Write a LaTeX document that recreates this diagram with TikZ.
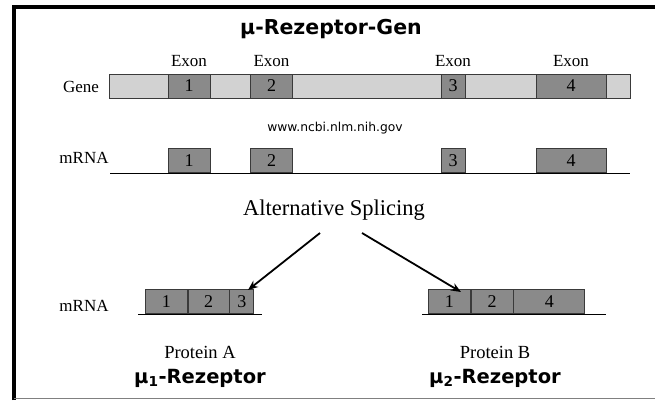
\documentclass[tikz,border=0pt]{standalone}
\usepackage{fontspec}
\setmainfont{Liberation Serif}
\newfontfamily\headfont{DejaVu Sans}
\newfontfamily\urlfont{DejaVu Sans}
\usetikzlibrary{arrows.meta}

\definecolor{introngray}{HTML}{D2D2D2}
\definecolor{exongray}{HTML}{8A8A8A}
\definecolor{edgegray}{HTML}{3A3A3A}

\tikzset{
  txt/.style={font=\fontsize{17}{17}\selectfont, inner sep=0pt},
  intron/.style={draw=edgegray, fill=introngray, line width=0.7pt, inner sep=0pt},
  exonbox/.style={draw=edgegray, fill=exongray, line width=0.7pt, inner sep=0pt,
    minimum height=24pt, font=\fontsize{18}{18}\selectfont},
  heading/.style={font=\headfont\bfseries\fontsize{19.5}{19.5}\selectfont, inner sep=0pt},
  baseline/.style={line width=0.9pt},
  splitarrow/.style={line width=1.8pt, -{Stealth[length=10pt,width=8pt]}}
}

\begin{document}
\begin{tikzpicture}[x=1pt,y=-1pt]
\useasboundingbox (0,0) rectangle (655,400);

% frame
\draw[line width=4pt] (14,400) -- (14,7) -- (655,7);
\draw[gray, line width=1.5pt] (14,398.5) -- (655,398.5);

% title
\node[heading, font=\headfont\bfseries\fontsize{20.5}{20.5}\selectfont] (title) at (331,29) {μ-Rezeptor-Gen};

% gene with introns and exons
\node[txt] (genelbl) at (81,87) {Gene};
\node[intron, minimum width=521pt, minimum height=24pt] (gene) at (369.5,86) {};
\node[exonbox, minimum width=42pt] (g1) at (189,86) {1};
\node[exonbox, minimum width=42pt] (g2) at (271.5,86) {2};
\node[exonbox, minimum width=24pt] (g3) at (453,86) {3};
\node[exonbox, minimum width=70pt] (g4) at (571,86) {4};
\foreach \e in {1,2,3,4}
  \node[txt, anchor=base] (ex\e) at ([yshift=7pt]g\e.north) {Exon};

% source
\node[font=\urlfont\fontsize{12.3}{13}\selectfont, inner sep=0pt] (src) at (335,128) {www.ncbi.nlm.nih.gov};

% mature mRNA
\node[txt] (mlbl) at (84,158) {mRNA};
\coordinate (mL) at (110,173);
\coordinate (mR) at (630,173);
\draw[baseline] (mL) -- (mR);
\node[exonbox, minimum width=42pt, anchor=south] (m1) at (189,173) {1};
\node[exonbox, minimum width=42pt, anchor=south] (m2) at (271.5,173) {2};
\node[exonbox, minimum width=24pt, anchor=south] (m3) at (453,173) {3};
\node[exonbox, minimum width=70pt, anchor=south] (m4) at (571,173) {4};

% splicing
\node[font=\fontsize{22.5}{22.5}\selectfont, inner sep=0pt] (alt) at (334,210) {Alternative Splicing};
\coordinate (aL) at (320,233);
\coordinate (aR) at (362,233);

% variant A
\node[txt] (mlblA) at (84,306) {mRNA};
\coordinate (aLL) at (138,314);
\coordinate (aLR) at (262,314);
\draw[baseline] (aLL) -- (aLR);
\node[exonbox, minimum width=42pt, anchor=south west] (a1) at (145,314) {1};
\node[exonbox, minimum width=41pt, anchor=south west] (a2) at (a1.south east) {2};
\node[exonbox, minimum width=24pt, anchor=south west] (a3) at (a2.south east) {3};

% variant B
\coordinate (bLL) at (422,314);
\coordinate (bLR) at (606,314);
\draw[baseline] (bLL) -- (bLR);
\node[exonbox, minimum width=42pt, anchor=south west] (b1) at (428,314) {1};
\node[exonbox, minimum width=42pt, anchor=south west] (b2) at (b1.south east) {2};
\node[exonbox, minimum width=71pt, anchor=south west] (b4) at (b2.south east) {4};

\coordinate (tipA) at (248,290);
\coordinate (tipB) at (461,292);
\draw[splitarrow] (aL) -- (tipA);
\draw[splitarrow] (aR) -- (tipB);

% proteins
\node[font=\fontsize{18.5}{18.5}\selectfont, inner sep=0pt] (protA) at (200,352) {Protein A};
\node[font=\fontsize{18.5}{18.5}\selectfont, inner sep=0pt] (protB) at (495,352) {Protein B};
\node[heading] (recA) at (200,378) {μ\textsubscript{1}-Rezeptor};
\node[heading] (recB) at (495,378) {μ\textsubscript{2}-Rezeptor};
\end{tikzpicture}
\end{document}
